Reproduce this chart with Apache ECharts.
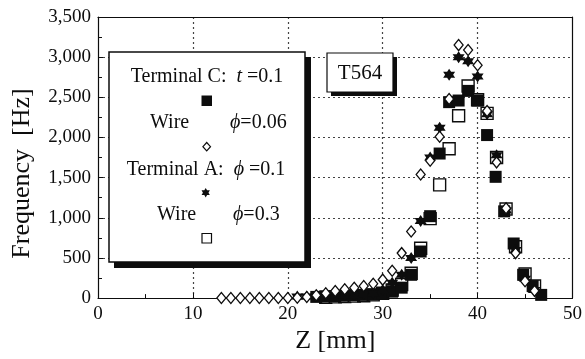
<!DOCTYPE html>
<html>
<head>
<meta charset="utf-8">
<script src="https://cdn.jsdelivr.net/npm/echarts@6/dist/echarts.min.js"></script>
<style>
  html, body { margin: 0; padding: 0; background: #fff; }
  #chart { width: 585px; height: 359px; }
</style>
</head>
<body>
<div id="chart"></div>
<script>
// Resonance frequency along the axial position Z for specimen T564

// Terminal C, t = 0.1 (filled squares)
const termCZ = [23, 24, 25, 26, 27, 28, 29, 30, 31, 32, 33, 34, 35, 36, 37, 38, 39, 40, 41, 41.9, 42.8, 43.8, 44.8, 45.8, 46.7];
const termCF = [15, 20, 25, 30, 35, 40, 45, 55, 80, 130, 290, 580, 1020, 1800, 2440, 2460, 2580, 2460, 2030, 1510, 1080, 680, 290, 150, 40];

// Wire, phi = 0.06 (open diamonds)
const wire006Z = [13, 14, 15, 16, 17, 18, 19, 20, 21, 22, 23, 24, 25, 26, 27, 28, 29, 30, 31, 32, 33, 34, 35, 36, 37, 38, 39, 40, 41, 42, 43, 44, 45, 46];
const wire006F = [0, 0, 0, 0, 0, 0, 0, 0, 5, 15, 35, 60, 88, 110, 130, 150, 180, 230, 340, 560, 830, 1540, 1710, 2010, 2480, 3150, 3090, 2900, 2330, 1690, 1120, 560, 210, 90];

// Terminal A, phi = 0.1 (stars)
const termAZ = [21, 22, 23, 24, 25, 26, 27, 28, 29, 30, 31, 32, 33, 34, 35, 36, 37, 38, 39, 40, 41, 42, 43, 44, 45, 46];
const termAF = [20, 20, 25, 25, 30, 35, 40, 50, 60, 100, 190, 290, 500, 960, 1750, 2120, 2780, 3000, 2950, 2760, 2290, 1780, 1090, 600, 240, 100];

// Wire, phi = 0.3 (open squares)
const wire03Z = [24, 25, 26, 27, 28, 29, 30, 31, 32, 33, 34, 35, 36, 37, 38, 39, 40, 41, 42, 43, 44, 45, 46];
const wire03F = [10, 15, 20, 25, 30, 40, 60, 100, 170, 310, 620, 990, 1410, 1860, 2270, 2640, 2470, 2300, 1750, 1110, 640, 300, 150];

// Axis ticks
const xTicks = { min: 0, max: 50, step: 10 };
const yTicks = { min: 0, max: 3500, step: 500 };

const SERIF = '"Liberation Serif", "DejaVu Serif", serif';
const INK = '#0d0d0d';

// Six-pointed star glyph used as a scatter symbol
function hexagramPoints(cx, cy, r) {
  const pts = [];
  for (let k = 0; k < 12; k++) {
    const a = (-90 + k * 30) * Math.PI / 180;
    const rr = k % 2 === 0 ? r : r * 0.577;
    pts.push([cx + rr * Math.cos(a), cy + rr * Math.sin(a)]);
  }
  return pts;
}
const starPath = 'path://' + hexagramPoints(100, 100, 100)
  .map((p, i) => (i ? 'L' : 'M') + p[0].toFixed(2) + ' ' + p[1].toFixed(2)).join(' ') + ' Z';

const pairs = (xs, ys) => xs.map((x, i) => [x, ys[i]]);

const chart = echarts.init(document.getElementById('chart'), null, { renderer: 'canvas' });

const gridLine = { show: true, showMinLine: false, showMaxLine: false, lineStyle: { color: '#444', type: [2, 3], width: 1.2 } };
const labelStyle = { color: INK, fontFamily: SERIF, fontSize: 19 };
const italic = { i: { fontStyle: 'italic', fontFamily: SERIF, fontSize: 20, fill: INK } };

const option = {
  animation: false,
  backgroundColor: '#fff',
  grid: { left: 98, right: 8, top: 17, bottom: 55, show: false },
  xAxis: [{
    type: 'value', min: xTicks.min, max: xTicks.max, interval: xTicks.step,
    name: 'Z [mm]', nameLocation: 'middle', nameGap: 25,
    nameTextStyle: { color: INK, fontFamily: SERIF, fontSize: 26 },
    axisLine: { show: true, onZero: false, lineStyle: { color: INK, width: 1.2 } },
    axisTick: { show: true, inside: true, length: 5, lineStyle: { color: INK } },
    minorTick: { show: true, splitNumber: 2, length: 4, lineStyle: { color: INK } },
    axisLabel: Object.assign({ margin: 6 }, labelStyle),
    splitLine: gridLine
  }, {
    type: 'value', position: 'top', min: xTicks.min, max: xTicks.max, interval: xTicks.step,
    axisLine: { show: true, onZero: false, lineStyle: { color: INK, width: 1.2 } },
    axisTick: { show: false }, axisLabel: { show: false }, splitLine: { show: false }
  }],
  yAxis: [{
    type: 'value', min: yTicks.min, max: yTicks.max, interval: yTicks.step,
    name: 'Frequency  [Hz]', nameLocation: 'middle', nameGap: 63,
    nameTextStyle: { color: INK, fontFamily: SERIF, fontSize: 26, padding: [0, 32, 0, 0] },
    axisLine: { show: true, onZero: false, lineStyle: { color: INK, width: 1.2 } },
    axisTick: { show: true, inside: true, length: 5, lineStyle: { color: INK } },
    minorTick: { show: true, splitNumber: 2, length: 4, lineStyle: { color: INK } },
    axisLabel: Object.assign({ margin: 7, formatter: v => v.toLocaleString('en-US') }, labelStyle),
    splitLine: gridLine
  }, {
    type: 'value', position: 'right', min: yTicks.min, max: yTicks.max, interval: yTicks.step,
    axisLine: { show: true, onZero: false, lineStyle: { color: INK, width: 1.2 } },
    axisTick: { show: false }, axisLabel: { show: false }, splitLine: { show: false }
  }],
  series: [
    {
      name: 'Wire phi=0.3', type: 'scatter', z: 2,
      data: pairs(wire03Z, wire03F),
      symbol: 'rect', symbolSize: 12,
      itemStyle: { color: '#fff', borderColor: INK, borderWidth: 1.4, opacity: 1 }
    },
    {
      name: 'Terminal C t=0.1', type: 'scatter', z: 3,
      data: pairs(termCZ, termCF),
      symbol: 'rect', symbolSize: 12,
      itemStyle: { color: INK, opacity: 1 }
    },
    {
      name: 'Terminal A phi=0.1', type: 'scatter', z: 4,
      data: pairs(termAZ, termAF),
      symbol: starPath, symbolSize: 12,
      itemStyle: { color: INK, opacity: 1 }
    },
    {
      name: 'Wire phi=0.06', type: 'scatter', z: 5,
      data: pairs(wire006Z, wire006F),
      symbol: 'diamond', symbolSize: [9, 11],
      itemStyle: { color: '#fff', borderColor: INK, borderWidth: 1.3, opacity: 1 }
    }
  ],
  graphic: [
    // key box with drop shadow
    { type: 'rect', z: 100, shape: { x: 114, y: 57, width: 197, height: 211 }, style: { fill: INK } },
    { type: 'rect', z: 101, shape: { x: 109, y: 52, width: 196, height: 210 }, style: { fill: '#fff', stroke: INK, lineWidth: 1.5 } },
    { type: 'text', z: 102, x: 207, y: 77, style: {
        text: 'Terminal C:  {i|t} =0.1', fill: INK, font: '20px ' + SERIF, align: 'center', verticalAlign: 'middle', rich: italic } },
    { type: 'rect', z: 102, shape: { x: 201.5, y: 95.5, width: 10.5, height: 10.5 }, style: { fill: INK } },
    { type: 'text', z: 102, x: 150, y: 123, style: { text: 'Wire', fill: INK, font: '20px ' + SERIF, align: 'left', verticalAlign: 'middle' } },
    { type: 'text', z: 102, x: 230, y: 123, style: {
        text: '{i|\u03D5}=0.06', fill: INK, font: '20px ' + SERIF, align: 'left', verticalAlign: 'middle', rich: italic } },
    { type: 'polygon', z: 102, shape: { points: [[206.7, 142.5], [210.5, 146.7], [206.7, 150.9], [202.9, 146.7]] }, style: { fill: '#fff', stroke: INK, lineWidth: 1.2 } },
    { type: 'text', z: 102, x: 206, y: 170, style: {
        text: 'Terminal A:  {i|\u03D5} =0.1', fill: INK, font: '20px ' + SERIF, align: 'center', verticalAlign: 'middle', rich: italic } },
    { type: 'polygon', z: 102, shape: { points: hexagramPoints(205.7, 192.7, 4.8) }, style: { fill: INK } },
    { type: 'text', z: 102, x: 157, y: 215, style: { text: 'Wire', fill: INK, font: '20px ' + SERIF, align: 'left', verticalAlign: 'middle' } },
    { type: 'text', z: 102, x: 233, y: 215, style: {
        text: '{i|\u03D5}=0.3', fill: INK, font: '20px ' + SERIF, align: 'left', verticalAlign: 'middle', rich: italic } },
    { type: 'rect', z: 102, shape: { x: 202, y: 233.5, width: 9.5, height: 9.5 }, style: { fill: '#fff', stroke: INK, lineWidth: 1.2 } },
    // specimen tag
    { type: 'rect', z: 100, shape: { x: 331, y: 57, width: 66, height: 39 }, style: { fill: INK } },
    { type: 'rect', z: 101, shape: { x: 327, y: 53, width: 66, height: 39 }, style: { fill: '#fff', stroke: INK, lineWidth: 1.2 } },
    { type: 'text', z: 102, x: 360, y: 73, style: { text: 'T564', fill: INK, font: '21px ' + SERIF, align: 'center', verticalAlign: 'middle' } }
  ]
};

chart.setOption(option);
</script>
</body>
</html>
